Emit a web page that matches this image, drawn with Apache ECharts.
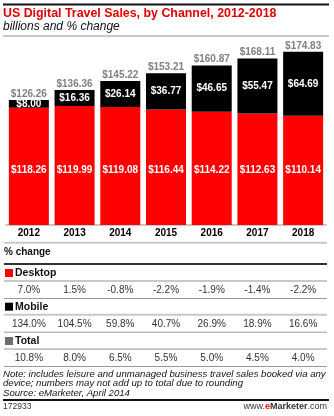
<!DOCTYPE html>
<html>
<head>
<meta charset="utf-8">
<script src="https://cdn.jsdelivr.net/npm/echarts@6/dist/echarts.min.js"></script>
<style>
  html, body { margin: 0; padding: 0; background: #fff; }
  #chart { width: 334px; height: 416px; }
</style>
</head>
<body>
<div id="chart"></div>
<script>
// US digital travel sales by channel, billions of dollars
const years = ['2012', '2013', '2014', '2015', '2016', '2017', '2018'];
const desktop = [118.26, 119.99, 119.08, 116.44, 114.22, 112.63, 110.14];
const mobile = [8.00, 16.36, 26.14, 36.77, 46.65, 55.47, 64.69];
const totals = [126.26, 136.36, 145.22, 153.21, 160.87, 168.11, 174.83];

// % change rows
const desktopChange = ['7.0%', '1.5%', '-0.8%', '-2.2%', '-1.9%', '-1.4%', '-2.2%'];
const mobileChange = ['134.0%', '104.5%', '59.8%', '40.7%', '26.9%', '18.9%', '16.6%'];
const totalChange = ['10.8%', '8.0%', '6.5%', '5.5%', '5.0%', '4.5%', '4.0%'];

const FONT = '"Liberation Sans", Arial, sans-serif';
const RED = '#ff0000';

const chart = echarts.init(document.getElementById('chart'), null, { renderer: 'canvas' });

const money = v => '$' + Number(v).toFixed(2);

chart.setOption({
  animation: false,
  backgroundColor: '#fff',
  grid: { left: 6, right: 8, top: 51.6, bottom: 191, containLabel: false },
  xAxis: {
    type: 'category',
    data: years,
    axisLine: { show: true, lineStyle: { color: '#c8c8c8', width: 2 } },
    axisTick: { show: false },
    axisLabel: { fontFamily: FONT, fontWeight: 'bold', fontSize: 10, color: '#000', margin: 3 }
  },
  yAxis: { type: 'value', min: 0, max: 175, show: false, splitLine: { show: false } },
  series: [
    {
      name: 'Desktop',
      type: 'bar',
      stack: 'sales',
      data: desktop,
      barWidth: 40,
      itemStyle: { color: RED },
      label: {
        show: true,
        position: 'insideBottom',
        distance: 50,
        formatter: p => money(p.value),
        color: '#fff',
        fontFamily: FONT,
        fontWeight: 'bold',
        fontSize: 10
      }
    },
    {
      name: 'Mobile',
      type: 'bar',
      stack: 'sales',
      data: mobile,
      barWidth: 40,
      itemStyle: { color: '#000' },
      label: {
        show: true,
        position: 'inside',
        formatter: p => money(p.value),
        color: '#fff',
        fontFamily: FONT,
        fontWeight: 'bold',
        fontSize: 10
      }
    },
    {
      // totals printed above each stack
      name: 'Total',
      type: 'bar',
      stack: 'sales',
      data: years.map(() => 0),
      barWidth: 40,
      itemStyle: { color: 'transparent' },
      label: {
        show: true,
        position: 'top',
        distance: 1,
        formatter: p => money(totals[p.dataIndex]),
        color: '#808080',
        fontFamily: FONT,
        fontWeight: 'bold',
        fontSize: 10
      }
    }
  ]
});

// Header, % change table and footer
const colX = years.map(y => chart.convertToPixel({ xAxisIndex: 0 }, y));
const L = 4, R = 327;
const g = [];

function hline(y, color, w) {
  g.push({ type: 'line', shape: { x1: L, y1: y, x2: R, y2: y }, style: { stroke: color, lineWidth: w }, silent: true });
}
function text(x, y, str, opts) {
  g.push({
    type: 'text', x: x, y: y, silent: true,
    style: Object.assign({ text: str, fontFamily: FONT, fontSize: 10, fill: '#333', align: 'left', verticalAlign: 'middle' }, opts || {})
  });
}

// title block
g.push({ type: 'line', shape: { x1: 3, y1: 4.5, x2: 329, y2: 4.5 }, style: { stroke: '#111', lineWidth: 2 }, silent: true });
text(3, 14, 'US Digital Travel Sales, by Channel, 2012-2018', { fontSize: 12.4, fontWeight: 'bold', fill: '#e00000' });
text(3, 27, 'billions and % change', { fontSize: 12, fontStyle: 'italic', fill: '#111' });
g.push({ type: 'line', shape: { x1: 3, y1: 36, x2: 329, y2: 36 }, style: { stroke: '#c8c8c8', lineWidth: 2 }, silent: true });

// % change table
hline(242.7, '#c8c8c8', 2);
text(4, 252, '% change', { fontWeight: 'bold', fill: '#111' });
hline(264, '#333', 2);

const rows = [
  { name: 'Desktop', color: RED, values: desktopChange, y: 273 },
  { name: 'Mobile', color: '#000', values: mobileChange, y: 306.7 },
  { name: 'Total', color: '#6d6d6d', values: totalChange, y: 341 }
];
rows.forEach((r, i) => {
  g.push({ type: 'rect', shape: { x: 5, y: r.y - 4, width: 8, height: 8 }, style: { fill: r.color }, silent: true });
  text(15, r.y, r.name, { fontWeight: 'bold', fontSize: 10.5, fill: '#111' });
  hline(r.y + 8, '#c8c8c8', 2);
  r.values.forEach((v, j) => text(colX[j], r.y + 17.7, v, { align: 'center', fill: '#333' }));
  hline(r.y + 25.5, '#9a9a9a', 1);
});

// notes
const noteStyle = { fontStyle: 'italic', fill: '#111', fontSize: 9.6 };
text(3, 374, 'Note: includes leisure and unmanaged business travel sales booked via any', noteStyle);
text(3, 383.5, 'device; numbers may not add up to total due to rounding', noteStyle);
text(3, 393, 'Source: eMarketer, April 2014', noteStyle);
g.push({ type: 'line', shape: { x1: 3, y1: 400, x2: 329, y2: 400 }, style: { stroke: '#111', lineWidth: 2 }, silent: true });
text(3, 407, '172933', { fontSize: 8.5, fill: '#333' });
g.push({
  type: 'text', x: 327, y: 407, silent: true,
  style: {
    text: '{a|www.}{b|e}{c|Marketer}{a|.com}',
    align: 'right', verticalAlign: 'middle',
    rich: {
      a: { fontFamily: FONT, fontSize: 9, fill: '#333' },
      b: { fontFamily: FONT, fontSize: 9, fontWeight: 'bold', fill: RED },
      c: { fontFamily: FONT, fontSize: 9, fontWeight: 'bold', fill: '#333' }
    }
  }
});

chart.setOption({ graphic: { elements: g } });
</script>
</body>
</html>
